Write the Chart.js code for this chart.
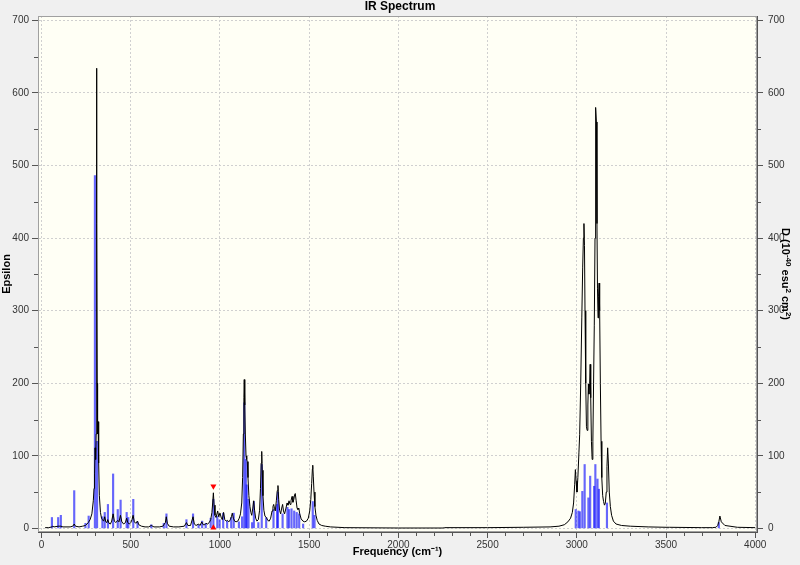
<!DOCTYPE html>
<html>
<head>
<meta charset="utf-8">
<script src="https://cdn.jsdelivr.net/npm/chart.js@4.4.1/dist/chart.umd.min.js"></script>
<style>
  html, body { margin: 0; padding: 0; background: #f0f0f0; }
  #wrap { width: 800px; height: 565px; }
</style>
</head>
<body>
<div id="wrap"><canvas id="irChart" width="800" height="565"></canvas></div>
<script>
// broadened spectrum (Epsilon, left axis)
const specFreq = [20, 40, 58, 62, 70, 93, 108, 120, 160, 175, 183, 190, 210, 230, 246, 262, 272, 282, 290, 294, 297, 300, 303, 306, 308, 309, 310, 312, 314, 317, 320, 324, 330, 336, 341, 348, 354, 360, 366, 371, 378, 386, 393, 401, 408, 416, 427, 434, 442, 450, 460, 470, 477, 483, 492, 500, 507, 513, 520, 528, 537, 545, 560, 580, 600, 615, 630, 660, 680, 688, 694, 699, 705, 715, 740, 770, 800, 812, 820, 835, 849, 856, 866, 880, 888, 898, 906, 915, 922, 930, 940, 948, 955, 959, 963, 967, 972, 978, 987, 993, 1000, 1008, 1013, 1020, 1027, 1035, 1042, 1050, 1058, 1064, 1069, 1075, 1082, 1090, 1100, 1108, 1115, 1122, 1127, 1131, 1134, 1136, 1139, 1142, 1146, 1150, 1153, 1157, 1162, 1168, 1173, 1178, 1184, 1189, 1194, 1200, 1207, 1215, 1222, 1227, 1231, 1234, 1237, 1241, 1246, 1252, 1260, 1268, 1276, 1284, 1292, 1297, 1301, 1306, 1310, 1316, 1321, 1325, 1329, 1334, 1340, 1346, 1351, 1356, 1362, 1370, 1376, 1381, 1387, 1393, 1398, 1404, 1409, 1414, 1418, 1422, 1427, 1432, 1437, 1442, 1447, 1455, 1465, 1475, 1485, 1495, 1503, 1509, 1514, 1518, 1520, 1523, 1527, 1532, 1538, 1545, 1555, 1570, 1590, 1620, 1700, 2000, 2250, 2260, 2500, 2700, 2850, 2900, 2930, 2950, 2965, 2975, 2982, 2988, 2992, 2996, 3001, 3006, 3012, 3016, 3022, 3028, 3033, 3037, 3040, 3043, 3046, 3050, 3054, 3058, 3062, 3065, 3068, 3072, 3075, 3078, 3082, 3086, 3090, 3094, 3098, 3102, 3104, 3107, 3110, 3113, 3116, 3119, 3122, 3125, 3128, 3132, 3136, 3140, 3145, 3150, 3155, 3160, 3165, 3169, 3173, 3177, 3182, 3188, 3195, 3205, 3220, 3250, 3300, 3400, 3500, 3520, 3700, 3760, 3780, 3790, 3796, 3802, 3810, 3830, 3900, 4000];
const specEps = [1, 1, 2, 3, 2, 3, 3, 2, 2, 3, 6, 3, 2, 3, 4, 8, 12, 20, 38, 55, 75, 111, 95, 130, 300, 634, 420, 200, 130, 147, 90, 45, 22, 14, 12, 10, 16, 9, 8, 12, 7, 6, 10, 20, 10, 8, 11, 9, 18, 9, 6, 8, 14, 8, 6, 8, 12, 18, 9, 7, 10, 5, 3, 2, 2, 4, 2, 2, 3, 6, 8, 16, 7, 3, 2, 2, 3, 8, 4, 4, 16, 6, 4, 6, 4, 9, 5, 5, 7, 6, 8, 12, 22, 35, 49, 32, 18, 15, 24, 16, 21, 14, 12, 22, 12, 10, 11, 9, 12, 16, 21, 14, 10, 9, 10, 14, 20, 35, 70, 130, 180, 205, 170, 130, 100, 95, 92, 70, 45, 30, 22, 18, 28, 38, 25, 14, 10, 12, 25, 55, 90, 106, 80, 45, 25, 17, 15, 11, 10, 14, 24, 30, 33, 27, 24, 38, 52, 59, 40, 25, 20, 28, 33, 24, 20, 28, 35, 32, 38, 33, 38, 44, 36, 40, 46, 48, 38, 28, 26, 28, 20, 13, 10, 9, 10, 14, 24, 40, 62, 82, 87, 72, 50, 30, 18, 11, 6, 4, 3, 2, 1, 0.5, 0.5, 1, 1, 1.5, 2, 3, 5, 9, 14, 22, 35, 60, 81, 65, 50, 70, 105, 129, 200, 290, 360, 400, 420, 390, 300, 200, 140, 135, 170, 199, 185, 200, 226, 180, 120, 95, 120, 200, 280, 400, 520, 580, 560, 420, 330, 290, 320, 338, 300, 200, 120, 70, 45, 37, 32, 35, 50, 85, 111, 90, 50, 30, 18, 10, 6, 4, 3, 2, 1.5, 1.5, 1, 1, 1.5, 4, 9, 17, 9, 4, 1.5, 1, 1];

// stick spectrum (D, right axis)
const stickFreq = [58, 93, 108, 183, 246, 264, 299, 311, 341, 354, 372, 401, 427, 443, 477, 486, 514, 538, 615, 685, 700, 812, 849, 880, 900, 920, 948, 963, 985, 998, 1018, 1040, 1063, 1077, 1106, 1124, 1136, 1145, 1150, 1160, 1180, 1190, 1215, 1234, 1259, 1300, 1320, 1325, 1351, 1378, 1387, 1401, 1416, 1430, 1444, 1466, 1520, 1530, 2994, 3009, 3017, 3031, 3044, 3065, 3075, 3097, 3104, 3116, 3124, 3169, 3796];
const stickD = [15, 15, 18, 52, 7, 17, 486, 120, 16, 22, 33, 75, 26, 39, 22, 15, 40, 9, 5, 7, 20, 12, 20, 5, 10, 7, 14, 40, 17, 12, 21, 10, 15, 21, 9, 16, 173, 95, 60, 40, 8, 37, 8, 88, 15, 26, 33, 50, 20, 29, 26, 27, 24, 22, 20, 6, 37, 18, 26, 24, 23, 51, 88, 42, 72, 58, 88, 68, 54, 35, 8];

// selected peak marker
const markerFreq = 963;
const markerTop = 58;
const markerBottom = 1;

const xMajorTicks = [0, 500, 1000, 1500, 2000, 2500, 3000, 3500, 4000];
const yMajorTicks = [0, 100, 200, 300, 400, 500, 600, 700];

// right axis title pieces: [text, superscript?]
const rightTitle = [['D (10', false], ['-40', true], [' esu', false], ['2', true], [' cm', false], ['2', true], [')', false]];

const tickFont = { family: "'Liberation Sans Narrow', 'Liberation Sans', Arial, sans-serif", size: 10 };
const boldFont = { family: "'Liberation Sans', Arial, sans-serif", size: 11, weight: 'bold' };

const frame = {
    id: 'frame',
    beforeDraw(chart) {
        const { ctx, chartArea: a } = chart;
        ctx.save();
        ctx.fillStyle = '#f0f0f0';
        ctx.fillRect(0, 0, chart.width, chart.height);
        ctx.fillStyle = '#fffff5';
        ctx.fillRect(a.left, a.top, a.right - a.left, a.bottom - a.top);
        ctx.restore();
    },
    afterDraw(chart) {
        const { ctx, chartArea: a, scales } = chart;
        ctx.save();
        ctx.strokeStyle = '#a0a0a0';
        ctx.lineWidth = 1;
        ctx.strokeRect(a.left + 0.5, a.top + 0.5, a.right - a.left - 1, a.bottom - a.top - 1);

        // minor ticks
        ctx.strokeStyle = '#555';
        ctx.beginPath();
        for (let v = 0; v <= 4000; v += 100) {
            if (v % 500 === 0) continue;
            const px = Math.round(scales.x.getPixelForValue(v)) + 0.5;
            ctx.moveTo(px, a.bottom);
            ctx.lineTo(px, a.bottom + 4);
        }
        for (let v = 0; v <= 700; v += 50) {
            if (v % 100 === 0) continue;
            const py = Math.round(scales.y.getPixelForValue(v)) + 0.5;
            ctx.moveTo(a.left - 4, py);
            ctx.lineTo(a.left, py);
            ctx.moveTo(a.right, py);
            ctx.lineTo(a.right + 4, py);
        }
        ctx.stroke();

        ctx.fillStyle = '#000';
        ctx.font = "bold 12px 'Liberation Sans', Arial, sans-serif";
        ctx.textAlign = 'center';
        ctx.textBaseline = 'middle';
        ctx.fillText('IR Spectrum', 400, 7);

        // right axis title, reads top to bottom
        const big = "bold 11px 'Liberation Sans', Arial, sans-serif";
        const small = "bold 8px 'Liberation Sans', Arial, sans-serif";
        let total = 0;
        rightTitle.forEach(([t, sup]) => { ctx.font = sup ? small : big; total += ctx.measureText(t).width; });
        ctx.translate(786, (a.top + a.bottom) / 2);
        ctx.rotate(Math.PI / 2);
        ctx.textAlign = 'left';
        ctx.textBaseline = 'alphabetic';
        let pos = -total / 2;
        rightTitle.forEach(([t, sup]) => {
            ctx.font = sup ? small : big;
            ctx.fillText(t, pos, sup ? 0 : 4);
            pos += ctx.measureText(t).width;
        });
        ctx.restore();
    }
};

const gridColor = (ctx) => ctx.tick && xMajorTicks.includes(ctx.tick.value) ? '#d0d0d0' : 'transparent';

new Chart(document.getElementById('irChart'), {
    data: {
        datasets: [
            {
                type: 'line',
                label: 'Spectrum',
                data: specFreq.map((f, i) => ({ x: f, y: specEps[i] })),
                borderColor: '#000',
                borderWidth: 1,
                pointRadius: 0,
                tension: 0,
                yAxisID: 'y',
                order: 1
            },
            {
                type: 'bar',
                label: 'Sticks',
                data: stickFreq.map((f, i) => ({ x: f, y: stickD[i] })),
                backgroundColor: 'rgba(0,0,255,0.6)',
                barThickness: 1.5,
                yAxisID: 'y2',
                order: 2
            },
            {
                type: 'scatter',
                label: 'Marker',
                data: [{ x: markerFreq, y: markerTop }, { x: markerFreq, y: markerBottom }],
                pointStyle: 'triangle',
                rotation: [180, 0],
                pointRadius: 3.5,
                backgroundColor: '#ff0000',
                borderColor: '#ff0000',
                borderWidth: 0,
                yAxisID: 'y',
                clip: false,
                order: 0
            }
        ]
    },
    options: {
        responsive: false,
        animation: false,
        devicePixelRatio: 1,
        layout: { padding: { top: 16, left: 0, right: 0, bottom: 0 } },
        plugins: {
            legend: { display: false },
            tooltip: { enabled: false }
        },
        scales: {
            x: {
                type: 'linear',
                position: 'bottom',
                offset: false,
                min: -20,
                max: 4010,
                afterFit: (s) => { s.height = 33; },
                afterBuildTicks: (s) => { s.ticks = xMajorTicks.map(v => ({ value: v })); },
                ticks: { font: tickFont, color: '#333', padding: 1, maxRotation: 0, autoSkip: false, callback: (v) => String(v) },
                grid: { offset: false, color: gridColor, tickColor: '#555', tickBorderDash: [], tickLength: 6 },
                border: { color: '#555', dash: [2, 2] },
                title: { display: true, text: 'Frequency (cm⁻¹)', font: boldFont, color: '#000', padding: { top: 0, bottom: 6 } }
            },
            y: {
                type: 'linear',
                position: 'left',
                min: -5,
                max: 706,
                afterFit: (s) => { s.width = 38; },
                afterBuildTicks: (s) => { s.ticks = yMajorTicks.map(v => ({ value: v })); },
                ticks: { font: tickFont, color: '#333', padding: 3, callback: (v) => String(v) },
                grid: { color: '#d0d0d0', tickColor: '#555', tickBorderDash: [], tickLength: 6 },
                border: { color: '#555', dash: [2, 2] },
                title: { display: true, text: 'Epsilon', font: boldFont, color: '#000', padding: { top: 0, bottom: 0 } }
            },
            y2: {
                type: 'linear',
                position: 'right',
                min: -5,
                max: 706,
                afterFit: (s) => { s.width = 43; },
                afterBuildTicks: (s) => { s.ticks = yMajorTicks.map(v => ({ value: v })); },
                ticks: { font: tickFont, color: '#333', padding: 5, callback: (v) => String(v) },
                grid: { drawOnChartArea: false, tickColor: '#555', tickLength: 6 },
                border: { color: '#555' }
            }
        }
    },
    plugins: [frame]
});
</script>
</body>
</html>
